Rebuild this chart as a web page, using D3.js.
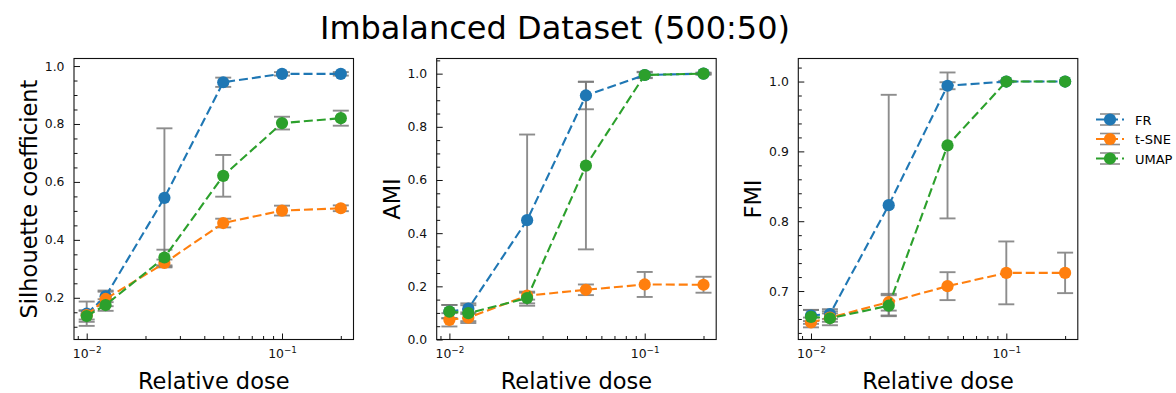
<!DOCTYPE html>
<html>
<head>
<meta charset="utf-8">
<script src="https://cdn.jsdelivr.net/npm/d3@7"></script>
<style>
  html, body { margin: 0; padding: 0; background: #fff; }
  svg { display: block; font-family: "DejaVu Sans", sans-serif; }
</style>
</head>
<body>
<svg id="chart" width="1176" height="393"></svg>
<script>
// Relative dose levels shared by every panel
const doses = [0.01, 0.0125, 0.025, 0.05, 0.1, 0.2];
const methods = ["FR", "t-SNE", "UMAP"];
const metricNames = ["Silhouette coefficient", "AMI", "FMI"];

// Silhouette coefficient: mean and standard deviation per method
const silhouetteFR = [0.145, 0.205, 0.545, 0.944, 0.973, 0.973];
const silhouetteFRErr = [0.042, 0.02, 0.24, 0.016, 0.006, 0.006];
const silhouetteTSNE = [0.14, 0.196, 0.32, 0.458, 0.501, 0.509];
const silhouetteTSNEErr = [0.015, 0.025, 0.012, 0.015, 0.017, 0.01];
const silhouetteUMAP = [0.137, 0.175, 0.339, 0.621, 0.803, 0.82];
const silhouetteUMAPErr = [0.02, 0.02, 0.027, 0.072, 0.022, 0.026];

// Adjusted mutual information
const amiFR = [0.105, 0.116, 0.449, 0.918, 0.995, 1.0];
const amiFRErr = [0.025, 0.02, 0.322, 0.052, 0.012, 0.004];
const amiTSNE = [0.074, 0.082, 0.165, 0.187, 0.207, 0.206];
const amiTSNEErr = [0.025, 0.02, 0.015, 0.02, 0.047, 0.03];
const amiUMAP = [0.105, 0.099, 0.156, 0.654, 0.995, 1.0];
const amiUMAPErr = [0.025, 0.03, 0.02, 0.315, 0.01, 0.002];

// Fowlkes-Mallows index
const fmiFR = [0.665, 0.667, 0.823, 0.994, 1.0, 1.0];
const fmiFRErr = [0.008, 0.007, 0.158, 0.005, 0.001, 0.0];
const fmiTSNE = [0.655, 0.662, 0.684, 0.707, 0.726, 0.726];
const fmiTSNEErr = [0.007, 0.006, 0.012, 0.02, 0.045, 0.029];
const fmiUMAP = [0.663, 0.661, 0.679, 0.9085, 1.0, 1.0];
const fmiUMAPErr = [0.01, 0.01, 0.015, 0.1045, 0.0, 0.0];

// Axis tick labels
const silhouetteTicks = [0.2, 0.4, 0.6, 0.8, 1.0];
const amiTicks = [0.0, 0.2, 0.4, 0.6, 0.8, 1.0];
const fmiTicks = [0.7, 0.8, 0.9, 1.0];
const doseTicks = [0.01, 0.1];

// ---- layout ----
const colors = ["#1f77b4", "#ff7f0e", "#2ca02c"];
const panelLefts = [74, 436.7, 798.3];
const panelTop = 58.5, panelW = 279.5, panelH = 281;
const markerR = 6.1;
const dash = "9,4";

const panels = [
  { name: metricNames[0], series: [[silhouetteFR, silhouetteFRErr], [silhouetteTSNE, silhouetteTSNEErr], [silhouetteUMAP, silhouetteUMAPErr]],
    ticks: silhouetteTicks, minorStep: 0.05, yDomain: [0.056, 1.026], fmt: d3.format(".1f") },
  { name: metricNames[1], series: [[amiFR, amiFRErr], [amiTSNE, amiTSNEErr], [amiUMAP, amiUMAPErr]],
    ticks: amiTicks, minorStep: 0.05, yDomain: [0.0, 1.057], fmt: d3.format(".1f") },
  { name: metricNames[2], series: [[fmiFR, fmiFRErr], [fmiTSNE, fmiTSNEErr], [fmiUMAP, fmiUMAPErr]],
    ticks: fmiTicks, minorStep: 0.02, yDomain: [0.6306, 1.033], fmt: d3.format(".1f") }
];

const svg = d3.select("#chart");

svg.append("text")
  .attr("x", 555).attr("y", 39)
  .attr("text-anchor", "middle")
  .attr("font-size", 32)
  .attr("fill", "#000")
  .text("Imbalanced Dataset (500:50)");

const xDomain = [Math.pow(10, -2.065), Math.pow(10, -0.634)];
const minorDoses = [];
for (let e = -3; e <= -1; e++) {
  for (let m = 2; m <= 9; m++) {
    const v = m * Math.pow(10, e);
    if (v > xDomain[0] && v < xDomain[1]) minorDoses.push(v);
  }
}

const capHalf = 8;

panels.forEach((p, i) => {
  const g = svg.append("g").attr("transform", `translate(${panelLefts[i]},${panelTop})`);
  const x = d3.scaleLog().domain(xDomain).range([0, panelW]);
  const y = d3.scaleLinear().domain(p.yDomain).range([panelH, 0]);

  // minor ticks
  const yMinor = d3.range(Math.ceil(p.yDomain[0] / p.minorStep - 1e-9) * p.minorStep, p.yDomain[1], p.minorStep)
    .map(v => +v.toFixed(4))
    .filter(v => !p.ticks.some(t => Math.abs(t - v) < 1e-6));

  g.append("g")
    .call(d3.axisLeft(y).tickValues(yMinor).tickSize(-3.5).tickFormat(""))
    .call(s => s.select(".domain").remove());
  g.append("g").attr("transform", `translate(0,${panelH})`)
    .call(d3.axisBottom(x).tickValues(minorDoses).tickSize(-3.5).tickFormat(""))
    .call(s => s.select(".domain").remove());

  // major y axis
  g.append("g")
    .call(d3.axisLeft(y).tickValues(p.ticks).tickSize(-6).tickPadding(9.5).tickFormat(p.fmt))
    .call(s => s.select(".domain").remove())
    .call(s => s.selectAll("text").attr("font-size", 12.4).attr("fill", "#111").attr("font-family", "DejaVu Sans"));

  // major x axis with power-of-ten labels
  const xa = g.append("g").attr("transform", `translate(0,${panelH})`)
    .call(d3.axisBottom(x).tickValues(doseTicks).tickSize(-6).tickPadding(9.5).tickFormat(""))
    .call(s => s.select(".domain").remove());
  xa.selectAll(".tick text").each(function(d) {
    const t = d3.select(this).attr("font-size", 12.4).attr("fill", "#111").attr("font-family", "DejaVu Sans");
    const exp = Math.round(Math.log10(d));
    t.append("tspan").text("10");
    t.append("tspan").attr("font-size", 8.8).attr("dy", "-0.55em").text("\u2212" + Math.abs(exp));
  });

  g.selectAll(".tick line").attr("stroke", "#111").attr("stroke-width", 1);

  // error bars
  p.series.forEach(([vals, errs]) => {
    const eb = g.append("g").attr("stroke", "#7a7a7a").attr("stroke-width", 1.9).attr("opacity", 0.85);
    doses.forEach((dv, k) => {
      if (errs[k] <= 0) return;
      const cx = x(dv), y0 = y(vals[k] - errs[k]), y1 = y(vals[k] + errs[k]);
      eb.append("line").attr("x1", cx).attr("x2", cx).attr("y1", y0).attr("y2", y1);
      eb.append("line").attr("x1", cx - capHalf).attr("x2", cx + capHalf).attr("y1", y0).attr("y2", y0);
      eb.append("line").attr("x1", cx - capHalf).attr("x2", cx + capHalf).attr("y1", y1).attr("y2", y1);
    });
  });

  // dashed lines with markers
  p.series.forEach(([vals], si) => {
    const line = d3.line().x((d, k) => x(doses[k])).y(d => y(d));
    g.append("path").datum(vals)
      .attr("d", line)
      .attr("fill", "none")
      .attr("stroke", colors[si])
      .attr("stroke-width", 2.1)
      .attr("stroke-dasharray", dash);
    g.selectAll(null).data(vals).enter().append("circle")
      .attr("cx", (d, k) => x(doses[k]))
      .attr("cy", d => y(d))
      .attr("r", markerR)
      .attr("fill", colors[si]);
  });

  // frame
  g.append("rect").attr("width", panelW).attr("height", panelH)
    .attr("fill", "none").attr("stroke", "#111").attr("stroke-width", 1.1);

  // axis labels
  g.append("text")
    .attr("x", panelW / 2).attr("y", 389 - panelTop)
    .attr("text-anchor", "middle").attr("font-size", 22.5).attr("fill", "#000")
    .text("Relative dose");
  g.append("text")
    .attr("transform", `translate(-37,${panelH / 2}) rotate(-90)`)
    .attr("text-anchor", "middle").attr("font-size", 22.5).attr("fill", "#000")
    .text(p.name);
});

// legend
const legend = svg.append("g");
const rowY = [119.5, 139, 158.5];
methods.forEach((m, i) => {
  const row = legend.append("g").attr("transform", `translate(0,${rowY[i]})`);
  const eb = row.append("g").attr("stroke", "#7a7a7a").attr("stroke-width", 1.6).attr("opacity", 0.85);
  eb.append("line").attr("x1", 1100).attr("x2", 1120).attr("y1", -5.5).attr("y2", -5.5);
  eb.append("line").attr("x1", 1100).attr("x2", 1120).attr("y1", 5.5).attr("y2", 5.5);
  eb.append("line").attr("x1", 1110).attr("x2", 1110).attr("y1", -5.5).attr("y2", 5.5);
  row.append("line").attr("x1", 1096).attr("x2", 1124).attr("y1", 0).attr("y2", 0)
    .attr("stroke", colors[i]).attr("stroke-width", 2.1).attr("stroke-dasharray", dash);
  row.append("circle").attr("cx", 1110).attr("cy", 0).attr("r", markerR).attr("fill", colors[i]);
  row.append("text").attr("x", 1135).attr("y", 5).attr("font-size", 13).attr("fill", "#000").text(m);
});
</script>
</body>
</html>
